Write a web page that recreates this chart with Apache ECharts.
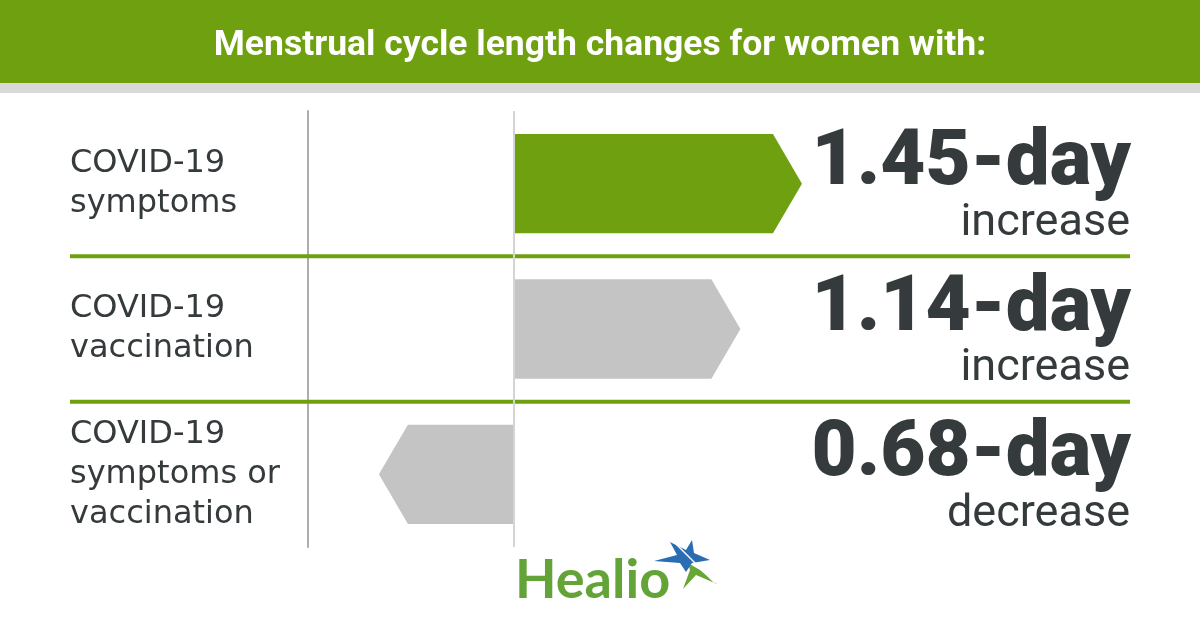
<!DOCTYPE html>
<html>
<head>
<meta charset="utf-8">
<script src="https://cdn.jsdelivr.net/npm/echarts@6/dist/echarts.min.js"></script>
<style>html,body{margin:0;padding:0;background:#fff}#chart{width:1200px;height:630px}</style>
</head>
<body>
<div id="chart"></div>
<script>
// ---- data ----
const titleText = 'Menstrual cycle length changes for women with:';
const categories = ['COVID-19\nsymptoms', 'COVID-19\nvaccination', 'COVID-19\nsymptoms or\nvaccination'];
const changeDays = [1.45, 1.14, -0.68];
const valueLabels = ['1.45-day', '1.14-day', '0.68-day'];
const directionLabels = ['increase', 'increase', 'decrease'];
const brandText = 'Healio';

// ---- styles ----
const GREEN = '#6ea00f';
const GRAY_BAR = '#c4c4c4';
const TEXT = '#353b3c';
const barColors = [GREEN, GRAY_BAR, GRAY_BAR];

const chart = echarts.init(document.getElementById('chart'));

function renderItem(params, api) {
  const i = api.value(0);
  const v = api.value(1);
  const p0 = api.coord([0, i]);
  const p1 = api.coord([v, i]);
  const band = api.size([0, 1])[1];
  const h = band * 0.684;
  const dir = v >= 0 ? 1 : -1;
  const tip = 29;
  const yT = p0[1] - h / 2, yB = p0[1] + h / 2, yC = p0[1];
  const xb = p1[0] - dir * tip;
  const children = [
    {
      type: 'polygon',
      shape: { points: [[p0[0], yT], [xb, yT], [p1[0], yC], [xb, yB], [p0[0], yB]] },
      style: { fill: barColors[params.dataIndex] }
    },
    {
      type: 'text',
      style: {
        text: valueLabels[params.dataIndex], x: 1131, y: yC - 19,
        align: 'right', verticalAlign: 'middle',
        font: '900 78px Roboto', fill: TEXT
      }
    },
    {
      type: 'text',
      style: {
        text: directionLabels[params.dataIndex], x: 1130, y: yC + 40,
        align: 'right', verticalAlign: 'middle',
        font: '400 45px Roboto', fill: TEXT
      }
    }
  ];
  if (params.dataIndex < categories.length - 1) {
    const yLine = yC + band / 2;
    children.push({
      type: 'line',
      shape: { x1: 70, y1: yLine, x2: 1130, y2: yLine },
      style: { stroke: GREEN, lineWidth: 4 }
    });
  }
  return { type: 'group', children };
}

chart.setOption({
  animation: false,
  backgroundColor: '#ffffff',
  grid: { left: 308, right: 288.8, top: 111, bottom: 83, containLabel: false },
  xAxis: { type: 'value', min: -1.037, max: 2, show: false },
  yAxis: {
    type: 'category', data: categories, inverse: true,
    axisLine: { show: true, onZero: false, lineStyle: { color: '#adadad', width: 2 } },
    axisTick: { show: false },
    splitLine: { show: false },
    axisLabel: {
      align: 'left', margin: 238, color: TEXT,
      fontFamily: 'DejaVu Sans', fontSize: 32, lineHeight: 40,
      padding: [8, 0, 0, 0]
    }
  },
  graphic: [
    { type: 'rect', shape: { x: 0, y: 0, width: 1200, height: 83 }, style: { fill: GREEN }, z: 0 },
    { type: 'rect', shape: { x: 0, y: 83, width: 1200, height: 10 }, style: { fill: '#d9d9d9' }, z: 0 },
    { type: 'text', x: 600, y: 46, style: { text: titleText, align: 'center', verticalAlign: 'middle', font: 'bold 35.5px Roboto', fill: '#ffffff' }, z: 1 },
    { type: 'text', x: 515, y: 581, style: { text: brandText, align: 'left', verticalAlign: 'middle', font: 'bold 54px Lato', fill: '#63a338' }, z: 1 },
    { type: 'polygon', shape: { points: [[688, 563], [700, 570], [717, 584], [696, 575], [683, 589], [690, 570]] }, style: { fill: '#6aa636' }, z: 1 },
    { type: 'polygon', shape: { points: [[670, 542], [686, 550], [692, 540], [694, 553], [710, 560], [692, 563], [686, 572], [680, 563], [654, 561], [677, 555]] }, style: { fill: '#2a6db3' }, z: 1 },
    { type: 'line', shape: { x1: 676, y1: 544, x2: 715, y2: 583 }, style: { stroke: '#ffffff', lineWidth: 1.5 }, z: 2 }
  ],
  series: [
    {
      type: 'custom',
      renderItem,
      encode: { x: 1, y: 0 },
      data: changeDays.map((v, i) => [i, v]),
      z: 2,
      markLine: {
        silent: true, symbol: 'none', label: { show: false },
        lineStyle: { color: '#d4d4d4', width: 2, type: 'solid' },
        data: [{ xAxis: 0 }]
      }
    }
  ]
});
</script>
</body>
</html>
